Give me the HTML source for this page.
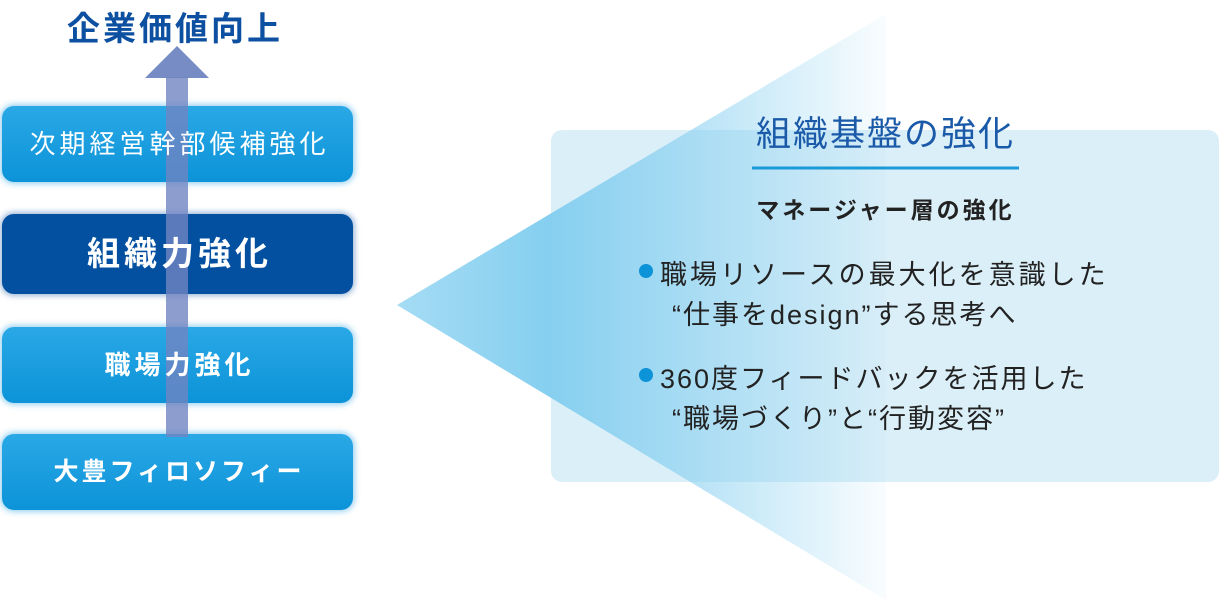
<!DOCTYPE html>
<html><head><meta charset="utf-8"><style>
body{margin:0;width:1220px;height:602px;background:#fff;position:relative;overflow:hidden;font-family:"Liberation Sans","Noto Sans CJK JP",sans-serif}
.box{position:absolute;left:2px;width:351px;border-radius:12px;box-shadow:0 0 6px 2px rgba(40,160,225,.45)}
.bt{position:absolute;left:2px;width:351px;color:#fff;text-align:center;white-space:nowrap}
.t{position:absolute;white-space:nowrap}
</style></head><body>
<div class="t" style="left:67px;top:2px;font-size:33px;font-weight:bold;color:#0d4fa0;letter-spacing:3px">企業価値向上</div>

<svg width="1220" height="602" style="position:absolute;left:0;top:0">
<defs>
<linearGradient id="g" x1="397" y1="0" x2="886" y2="0" gradientUnits="userSpaceOnUse">
<stop offset="0" stop-color="#a5dcf4"/>
<stop offset="0.31" stop-color="#86cff0"/>
<stop offset="1" stop-color="#86cff0" stop-opacity="0.05"/>
</linearGradient>
</defs>
<rect x="551" y="130" width="668" height="352" rx="11" fill="#dbeff8"/>
<polygon points="397,305 886,14 886,600" fill="url(#g)"/>
</svg>

<div class="box" style="top:106px;height:76px;background:linear-gradient(#2aa8e6,#0c93d8)"></div>
<div class="box" style="top:214px;height:80px;background:#0450a0;box-shadow:0 0 6px 2px rgba(10,80,160,.4)"></div>
<div class="box" style="top:327px;height:76px;background:linear-gradient(#2aa8e6,#0c93d8)"></div>
<div class="box" style="top:434px;height:76px;background:linear-gradient(#2aa8e6,#0c93d8)"></div>

<svg width="1220" height="602" style="position:absolute;left:0;top:0">
<rect x="166" y="77" width="22" height="360" fill="#7085c2" fill-opacity="0.8"/>
<polygon points="145,78 177,46 209,78" fill="#7085c2" fill-opacity="0.95"/>
<line x1="752" y1="168" x2="1019" y2="168" stroke="#1a9ad8" stroke-width="3"/>
<circle cx="646" cy="271" r="7" fill="#0c93d8"/>
<circle cx="646" cy="375" r="7" fill="#0c93d8"/>
</svg>

<div class="bt" style="top:106px;line-height:76px;font-size:26px;letter-spacing:4px;text-indent:4px">次期経営幹部候補強化</div>
<div class="bt" style="top:214px;line-height:80px;font-size:33px;font-weight:bold;letter-spacing:4px;text-indent:4px">組織力強化</div>
<div class="bt" style="top:327px;line-height:76px;font-size:26px;font-weight:bold;letter-spacing:4px;text-indent:4px">職場力強化</div>
<div class="bt" style="top:434px;line-height:76px;font-size:25px;font-weight:bold;letter-spacing:3px;text-indent:3px">大豊フィロソフィー</div>

<div class="t" style="left:752px;width:267px;text-align:center;top:106px;font-size:35px;letter-spacing:2px;color:#1a5aa8">組織基盤の強化</div>
<div class="t" style="left:752px;width:267px;text-align:center;top:191px;font-size:23px;letter-spacing:3px;font-weight:bold;color:#222">マネージャー層の強化</div>
<div class="t" style="left:660px;top:253px;font-size:27px;letter-spacing:3px;color:#222">職場リソースの最大化を意識した</div>
<div class="t" style="left:672px;top:293px;font-size:27px;letter-spacing:2px;color:#222">“仕事をdesign”する思考へ</div>
<div class="t" style="left:660px;top:357px;font-size:27px;letter-spacing:2px;color:#222">360度フィードバックを活用した</div>
<div class="t" style="left:672px;top:397px;font-size:27px;letter-spacing:2px;color:#222">“職場づくり”と“行動変容”</div>
</body></html>
